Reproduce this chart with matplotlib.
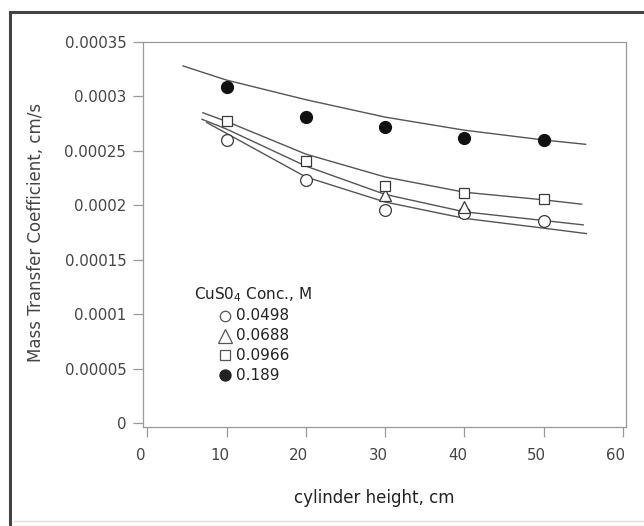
import matplotlib
matplotlib.use("Agg")
import matplotlib.pyplot as plt
from matplotlib.lines import Line2D
from matplotlib.transforms import ScaledTranslation

# ---- data ----
height = [10, 20, 30, 40, 50]
k_0498 = [0.000260, 0.000223, 0.000196, 0.000193, 0.000186]
height_0688 = [30, 40]
k_0688 = [0.000209, 0.000198]
k_0966 = [0.000277, 0.000241, 0.000218, 0.000211, 0.000206]
k_189 = [0.000309, 0.000281, 0.000272, 0.000262, 0.000260]

# fitted curves
fit_x_189 = [4.5, 10, 20, 30, 40, 50, 55.3]
fit_y_189 = [0.000328, 0.000315, 0.000297, 0.000281, 0.000269, 0.000260, 0.000256]
fit_x_0966 = [7.0, 10, 20, 30, 40, 50, 54.8]
fit_y_0966 = [0.000285, 0.000277, 0.000247, 0.000226, 0.000212, 0.000205, 0.000201]
fit_x_0688 = [6.9, 10, 20, 30, 40, 50, 55.0]
fit_y_0688 = [0.000279, 0.000270, 0.000236, 0.000210, 0.000194, 0.000186, 0.000182]
fit_x_0498 = [7.5, 10, 20, 30, 40, 50, 55.4]
fit_y_0498 = [0.000276, 0.000266, 0.000226, 0.000203, 0.000188, 0.000179, 0.000174]

legend_title = "CuS0$_4$ Conc., M"
legend_labels = ["0.0498", "0.0688", "0.0966", "0.189"]
xticks = [0, 10, 20, 30, 40, 50, 60]
yticks = [0, 0.00005, 0.0001, 0.00015, 0.0002, 0.00025, 0.0003, 0.00035]
ytick_labels = ["0", "0.00005", "0.0001", "0.00015", "0.0002", "0.00025", "0.0003", "0.00035"]

plt.rcParams['font.family'] = ['DejaVu Sans']
plt.rcParams['mathtext.default'] = 'regular'
W, H = 644, 526
fig = plt.figure(figsize=(W / 100, H / 100), dpi=100)
fig.patch.set_facecolor('white')

ax = fig.add_axes([143 / W, 1 - 427 / H, (626 - 143) / W, (427 - 42) / H])

lc = '#555555'
mc = '#3a3a3a'
for fx, fy in [(fit_x_189, fit_y_189), (fit_x_0966, fit_y_0966),
               (fit_x_0688, fit_y_0688), (fit_x_0498, fit_y_0498)]:
    ax.plot(fx, fy, color=lc, lw=1.0, zorder=2)

ax.plot(height, k_0498, 'o', ms=8.5, mfc='white', mec=mc, mew=0.9, zorder=3)
ax.plot(height_0688, k_0688, '^', ms=9, mfc='white', mec=mc, mew=0.9, zorder=3)
ax.plot(height, k_0966, 's', ms=7.5, mfc='white', mec=mc, mew=0.9, zorder=3)
ax.plot(height, k_189, 'o', ms=8.5, mfc='#111111', mec='#111111', zorder=3)

ax.set_xlim(-0.55, 60.4)
ax.set_ylim(-0.0000037, 0.00035)
ax.set_xticks(xticks)
ax.set_xticklabels([str(v) for v in xticks])
ax.set_yticks(yticks)
ax.set_yticklabels(ytick_labels)

for s in ax.spines.values():
    s.set_color('#999999')
    s.set_linewidth(0.9)
ax.tick_params(axis='both', direction='out', length=7, width=0.9, color='#999999',
               labelsize=10.8, labelcolor='#444444')
ax.tick_params(axis='x', pad=8)
ax.tick_params(axis='y', pad=5)
for lab in ax.get_xticklabels():
    lab.set_transform(lab.get_transform() + ScaledTranslation(-7 / 100, 0, fig.dpi_scale_trans))

fig.text(374 / W, 1 - 498 / H, "cylinder height, cm", ha='center', va='center',
         fontsize=12, color='#222222')
fig.text(36 / W, 1 - 232 / H, "Mass Transfer Coefficient, cm/s", ha='center', va='center',
         rotation=90, fontsize=12, color='#444444')

# legend
fig.text(253 / W, 1 - 295 / H, legend_title, ha='center', va='center', fontsize=11, color='#222222')
mk = [('o', 'white', 7.5), ('^', 'white', 10), ('s', 'white', 6.5), ('o', '#222222', 8)]
rows = [316, 336, 355, 375]
for (m, fc, ms), lab, ry in zip(mk, legend_labels, rows):
    fig.add_artist(Line2D([225 / W], [1 - ry / H], marker=m, ms=ms, mfc=fc,
                          mec='#555555' if fc == 'white' else '#222222', mew=0.9,
                          transform=fig.transFigure, linestyle='none'))
    fig.text(236 / W, 1 - ry / H, lab, ha='left', va='center', fontsize=11, color='#222222')

# outer frame
fig.add_artist(Line2D([10 / W, 1], [1 - 12 / H, 1 - 12 / H], color='#444444', lw=2.2,
                      transform=fig.transFigure))
fig.add_artist(Line2D([10 / W, 10 / W], [0, 1 - 12 / H], color='#444444', lw=2.2,
                      transform=fig.transFigure))
fig.add_artist(Line2D([14 / W, 1], [1 - 521 / H, 1 - 521 / H], color='#dddddd', lw=1,
                      transform=fig.transFigure))

fig.savefig("out.png", dpi=100)
